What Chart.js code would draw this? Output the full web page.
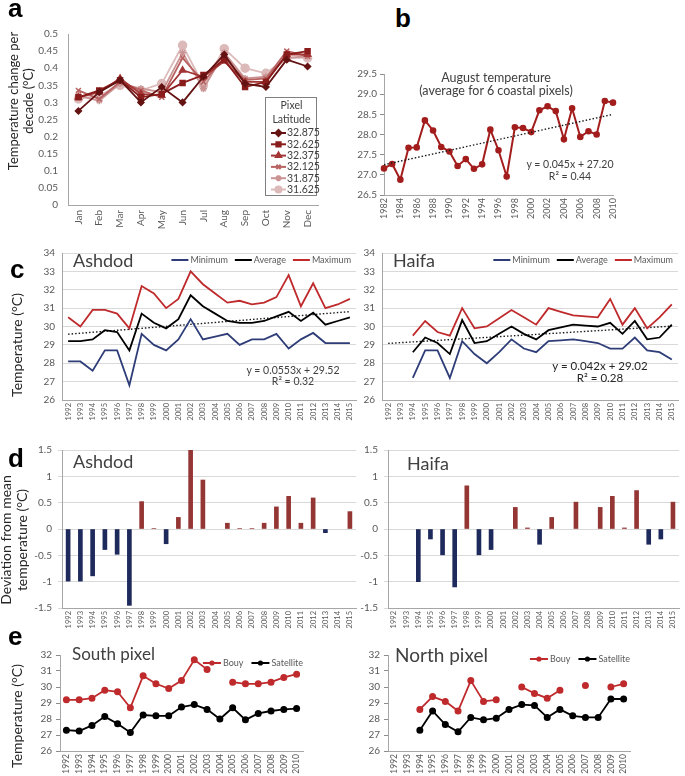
<!DOCTYPE html>
<html><head><meta charset="utf-8">
<script src="https://cdn.jsdelivr.net/npm/chart.js@4.4.1/dist/chart.umd.min.js"></script>
<style>
html,body{margin:0;padding:0;background:#fff;}
#wrap{position:relative;width:685px;height:776px;overflow:hidden;background:#fff;}
canvas{position:absolute;}
.t{position:absolute;white-space:nowrap;font-family:Lato,'Open Sans',sans-serif;color:#404040;line-height:1;}
.L{position:absolute;font-family:'Liberation Sans',Arial,sans-serif;font-weight:bold;color:#000;line-height:1;font-size:26px;}
.r{position:absolute;white-space:nowrap;font-family:Lato,'Open Sans',sans-serif;color:#262626;text-align:center;transform:translate(-50%,-50%) rotate(-90deg);}
</style></head><body><div id="wrap"></div>
<script>
// ---------- DATA ----------
const months = ['Jan','Feb','Mar','Apr','May','Jun','Jul','Aug','Sep','Oct','Nov','Dec'];
const pixelLatitudes = ['32.875','32.625','32.375','32.125','31.875','31.625'];
const change32875 = [0.275,0.33,0.365,0.30,0.345,0.30,0.375,0.44,0.355,0.345,0.425,0.405];
const change32625 = [0.315,0.335,0.365,0.315,0.325,0.357,0.38,0.425,0.345,0.36,0.44,0.45];
const change32375 = [0.315,0.33,0.37,0.325,0.32,0.394,0.375,0.42,0.36,0.36,0.44,0.44];
const change32125 = [0.335,0.31,0.36,0.335,0.315,0.43,0.36,0.43,0.365,0.37,0.45,0.435];
const change31875 = [0.32,0.305,0.355,0.34,0.33,0.445,0.34,0.445,0.37,0.375,0.43,0.435];
const change31625 = [0.31,0.32,0.35,0.335,0.355,0.467,0.35,0.457,0.40,0.385,0.43,0.43];

const augYears = ['1982','1983','1984','1985','1986','1987','1988','1989','1990','1991','1992','1993','1994','1995','1996','1997','1998','1999','2000','2001','2002','2003','2004','2005','2006','2007','2008','2009','2010'];
const augTemp = [27.16,27.27,26.88,27.67,27.68,28.35,28.1,27.69,27.58,27.22,27.39,27.15,27.26,28.12,27.61,26.96,28.18,28.16,28.06,28.6,28.7,28.58,27.88,28.65,27.94,28.08,28.0,28.83,28.79];
const augTrendEnds = [27.25, 28.5];

const stationYears = ['1992','1993','1994','1995','1996','1997','1998','1999','2000','2001','2002','2003','2004','2005','2006','2007','2008','2009','2010','2011','2012','2013','2014','2015'];
const ashdodMin = [28.1,28.1,27.6,28.7,28.7,26.8,29.6,29.0,28.7,29.3,30.4,29.3,29.45,29.6,29.0,29.3,29.3,29.6,28.8,29.3,29.65,29.1,29.1,29.1];
const ashdodAvg = [29.2,29.2,29.3,29.8,29.7,28.7,30.7,30.2,29.9,30.4,31.7,31.1,30.7,30.3,30.2,30.2,30.3,30.55,30.8,30.3,30.75,30.1,30.3,30.5];
const ashdodMax = [30.5,30.0,30.9,30.9,30.7,29.9,32.2,31.8,31.0,31.5,33.0,32.3,31.8,31.3,31.4,31.2,31.3,31.6,32.8,31.1,32.35,31.0,31.2,31.5];
const ashdodTrendEnds = [29.58, 30.81];
const haifaMin = [null,null,27.2,28.7,28.7,27.2,29.2,28.5,28.0,28.6,29.3,28.8,28.6,29.2,29.25,29.3,29.2,29.1,28.8,28.8,29.4,28.7,28.6,28.2];
const haifaAvg = [null,null,28.6,29.4,29.1,28.5,30.35,29.1,29.2,29.6,30.0,29.6,29.3,29.8,29.95,30.1,30.05,30.0,30.2,29.6,30.3,29.3,29.4,30.1];
const haifaMax = [null,null,29.5,30.3,29.7,29.5,31.0,29.9,30.0,30.45,30.9,30.5,30.1,31.0,30.8,30.6,30.55,30.5,31.5,30.1,31.0,29.9,30.5,31.2];
const haifaTrendEnds = [29.08, 30.02];

const ashdodDev = [-0.99,-0.99,-0.89,-0.39,-0.48,-1.45,0.52,0.01,-0.28,0.22,1.5,0.93,null,0.11,0.01,0.01,0.11,0.42,0.62,0.11,0.59,-0.07,null,0.33];
const haifaDev = [null,null,-1.0,-0.19,-0.49,-1.1,0.82,-0.49,-0.39,null,0.41,0.02,-0.29,0.22,null,0.51,null,0.41,0.62,0.02,0.73,-0.29,-0.19,0.51];

const pixelYears = ['1992','1993','1994','1995','1996','1997','1998','1999','2000','2001','2002','2003','2004','2005','2006','2007','2008','2009','2010'];
const southBuoy = [29.2,29.2,29.3,29.8,29.7,28.7,30.7,30.2,29.9,30.4,31.7,31.1,null,30.3,30.2,30.2,30.3,30.6,30.8];
const southSat = [27.3,27.25,27.6,28.15,27.7,27.15,28.25,28.2,28.2,28.75,28.9,28.6,28.0,28.7,27.95,28.35,28.5,28.6,28.65];
const northBuoy = [null,null,28.6,29.4,29.1,28.5,30.4,29.1,29.2,null,30.0,29.6,29.3,29.8,null,30.1,null,30.0,30.2];
const northSat = [null,null,27.3,28.5,27.65,27.2,28.1,27.95,28.05,28.6,28.9,28.85,28.1,28.6,28.2,28.1,28.1,29.25,29.25];

// ---------- STYLE ----------
const RED = '#BF2A2C', NAVY = '#2E3D78', BAR_RED = '#943634', BAR_NAVY = '#1F2A5C';
const latColors = ['#641212','#8A1C1C','#A33535','#B86262','#CB9494','#DDBABA'];
const latStyles = ['rectRot','rect','triangle','crossRot','star','circle'];
const latRadius = [3,3.5,3.5,3.5,3.5,4];

Chart.defaults.font.family = "Lato, 'Open Sans', sans-serif";
Chart.defaults.color = '#595959';

const wrap = document.getElementById('wrap');
function addCanvas(left, top, w, h){
  const c = document.createElement('canvas');
  c.width = w; c.height = h;
  c.style.left = left+'px'; c.style.top = top+'px';
  c.style.width = w+'px'; c.style.height = h+'px';
  wrap.appendChild(c); return c;
}
function addText(html, x, base, size, o={}){
  const d = document.createElement('div'); d.className='t'; d.innerHTML = html;
  d.style.fontSize = size+'px'; d.style.top = (base - 0.887*size)+'px'; d.style.left = x+'px';
  if (o.center) d.style.transform = 'translateX(-50%)';
  if (o.color) d.style.color = o.color;
  if (o.weight) d.style.fontWeight = o.weight;
  wrap.appendChild(d);
}
function addRot(html, cx, cy, size, lh){
  const d = document.createElement('div'); d.className='r'; d.innerHTML = html;
  d.style.fontSize = size+'px'; d.style.lineHeight = (lh||size)+'px';
  d.style.left = cx+'px'; d.style.top = cy+'px';
  wrap.appendChild(d);
}
function addLetter(ch, x, base){
  const d = document.createElement('div'); d.className='L'; d.textContent = ch;
  d.style.left = x+'px'; d.style.top = (base-22)+'px'; wrap.appendChild(d);
}

function yLin(W, min, max, step, o={}){
  return { type:'linear', min, max,
    ticks:{ stepSize:step, font:{size:o.fs||10}, color:'#595959', padding:(o.pad!==undefined?o.pad:6),
      callback: o.cb || (v => String(+v.toFixed(2))) },
    grid:{ display:true, drawOnChartArea:!!o.grid, color:o.grid ? '#D9D9D9' : '#8C8C8C',
      drawTicks:!!o.tick, tickLength:o.tick||0 },
    border:{ display:true, color:o.bc||'#A6A6A6', width:1 },
    afterFit(s){ s.width = W; } };
}
function xCat(H, labels, o={}){
  const ticks = { minRotation:90, maxRotation:90, autoSkip:false, font:{size:o.fs||8}, color:'#595959',
    padding:(o.pad!==undefined?o.pad:3) };
  if (o.cb) ticks.callback = o.cb;
  return { type:'category', labels, offset:(o.offset!==undefined?o.offset:true), ticks,
    grid:{ display:false, drawTicks:false, tickLength:0 }, border:{ display:true, color:o.bc||'#A6A6A6', width:1 },
    afterFit(s){ s.height = H; } };
}
function trendData(n, ends){ const a = new Array(n).fill(null); a[0] = ends[0]; a[n-1] = ends[1]; return a; }

const boxLegend = {
  id:'boxLegend',
  afterDraw(chart, args, o){
    const {ctx, chartArea:ca} = chart;
    const x0 = Math.round(ca.right + o.dx), y0 = Math.round(ca.bottom + o.dy);
    ctx.save();
    ctx.fillStyle = '#fff'; ctx.fillRect(x0, y0, o.w, o.h);
    ctx.strokeStyle = '#7F7F7F'; ctx.lineWidth = 1; ctx.strokeRect(x0+0.5, y0+0.5, o.w, o.h);
    ctx.font = o.fs+'px Lato, sans-serif'; ctx.textBaseline = 'middle'; ctx.textAlign = 'center';
    ctx.fillStyle = '#404040';
    o.title.forEach((t,i) => ctx.fillText(t, x0 + o.w/2 + 1, y0 + o.titleY[i]));
    ctx.textAlign = 'left';
    chart.data.datasets.forEach((ds,i) => {
      const y = y0 + o.itemY0 + i*o.itemDy;
      ctx.strokeStyle = ds.borderColor; ctx.lineWidth = 2;
      ctx.beginPath(); ctx.moveTo(x0+6, y); ctx.lineTo(x0+21, y); ctx.stroke();
      ctx.fillStyle = ds.pointBackgroundColor; ctx.strokeStyle = ds.borderColor;
      if (Chart.helpers && Chart.helpers.drawPoint) {
        Chart.helpers.drawPoint(ctx, {pointStyle:ds.pointStyle, radius:Math.min(3, ds.pointRadius), borderWidth:1.2, rotation:0}, x0+13.5, y);
      }
      ctx.fillStyle = '#404040'; ctx.fillText(ds.label, x0+22, y);
    });
    ctx.restore();
  }
};
const lineLegend = {
  id:'lineLegend',
  afterDraw(chart, args, o){
    const {ctx, chartArea:ca} = chart;
    const items = chart.data.datasets.filter(d => d.label && !d.noLegend);
    ctx.save(); ctx.font = o.fs+'px Lato, sans-serif'; ctx.textBaseline = 'middle'; ctx.textAlign = 'left';
    const widths = items.map(it => ctx.measureText(it.label).width);
    const total = items.reduce((s,it,i) => s + o.len + 2 + widths[i], 0) + o.gap*(items.length-1);
    let x = ca.right + o.dx - total; const y = ca.top + o.dy;
    items.forEach((it,i) => {
      ctx.strokeStyle = it.borderColor; ctx.lineWidth = 2;
      ctx.beginPath(); ctx.moveTo(x, y); ctx.lineTo(x+o.len, y); ctx.stroke();
      if (it.pointRadius > 0){ ctx.fillStyle = it.borderColor; ctx.beginPath(); ctx.arc(x+o.len/2, y, 2.6, 0, Math.PI*2); ctx.fill(); }
      x += o.len + 2; ctx.fillStyle = '#595959'; ctx.fillText(it.label, x, y); x += widths[i] + o.gap;
    });
    ctx.restore();
  }
};

function mk(canvas, type, data, scales, padding, plugins, pluginOpts){
  return new Chart(canvas, { type, data, plugins:plugins||[],
    options:{ responsive:false, animation:false, devicePixelRatio:1, layout:{padding},
      scales, elements:{ line:{ tension:0 } },
      plugins:Object.assign({ legend:{display:false}, tooltip:{enabled:false} }, pluginOpts||{}) } });
}
const lineDs = (label, data, color, o={}) => Object.assign({ label, data, borderColor:color, backgroundColor:color,
  pointBackgroundColor:color, pointBorderColor:color, borderWidth:2, pointRadius:0, spanGaps:false }, o);
const trendDs = (data) => ({ data, borderColor:'#1a1a1a', borderWidth:1.4, borderDash:[1.5,2], pointRadius:0, spanGaps:true, noLegend:true });

// ---------- PANEL A ----------
const changeSeries = [change32875, change32625, change32375, change32125, change31875, change31625];
mk(addCanvas(0,0,340,248), 'line',
  { labels:months, datasets: changeSeries.map((d,i) => lineDs(pixelLatitudes[i], d, latColors[i],
      { pointStyle:latStyles[i], pointRadius:latRadius[i], pointBorderWidth:1.5, borderWidth:1.8 })) },
  { x: xCat(43, months, {fs:10, pad:5}), y: yLin(68, 0, 0.5, 0.05, {fs:10, pad:10}) },
  {top:34, right:22, left:0, bottom:0}, [boxLegend],
  { boxLegend:{ dx:-53, dy:-108, w:51, h:98, fs:10.5, title:['Pixel','Latitude'], titleY:[9,23], itemY0:36, itemDy:11.3 } });

// ---------- PANEL B ----------
mk(addCanvas(340,60,300,165), 'line',
  { labels:augYears, datasets:[
    trendDs(trendData(augYears.length, augTrendEnds)),
    lineDs('August', augTemp, '#A31D1D', { pointRadius:2.3, borderWidth:2 }) ] },
  { x: xCat(30, augYears, {fs:9, pad:3, offset:false, cb:function(v,i){ return i%2===0 ? this.getLabelForValue(v) : ''; }}),
    y: yLin(44, 26.5, 29.5, 0.5, {fs:10, pad:3, tick:4, cb:v => v.toFixed(1)}) },
  {top:14, right:27, left:0, bottom:0});

// ---------- PANEL C ----------
function tempChart(canvas, mn, av, mx, ends, yW, pad){
  return mk(canvas, 'line',
    { labels:stationYears, datasets:[
      lineDs('Minimum', mn, NAVY, {borderWidth:1.8}),
      lineDs('Average', av, '#000000', {borderWidth:1.8}),
      lineDs('Maximum', mx, RED, {borderWidth:1.8}),
      trendDs(trendData(stationYears.length, ends)) ] },
    { x: xCat(30, stationYears, {fs:7.5, pad:3}), y: yLin(yW, 26, 34, 1, {fs:10, pad:7, grid:true}) },
    pad, [lineLegend], { lineLegend:{ fs:9, len:17, gap:7, dx:-5, dy:7 } });
}
tempChart(addCanvas(0,240,362,190), ashdodMin, ashdodAvg, ashdodMax, ashdodTrendEnds, 62, {top:10, right:4, left:0, bottom:0});
tempChart(addCanvas(352,240,333,190), haifaMin, haifaAvg, haifaMax, haifaTrendEnds, 30, {top:10, right:7, left:0, bottom:0});

// ---------- PANEL D ----------
function devChart(canvas, vals, yW, pad){
  return mk(canvas, 'bar',
    { labels:stationYears, datasets:[{ data:vals, barThickness:4,
      backgroundColor: c => (c.raw >= 0 ? BAR_RED : BAR_NAVY) }] },
    { x: xCat(28, stationYears, {fs:7.5, pad:3}),
      y: yLin(yW, -1.5, 1.5, 0.5, {fs:10, pad:6, grid:true, tick:4}) },
    pad);
}
devChart(addCanvas(0,438,362,198), ashdodDev, 62, {top:10, right:5, left:0, bottom:0});
devChart(addCanvas(352,438,333,198), haifaDev, 36, {top:12, right:2, left:0, bottom:0});

// ---------- PANEL E ----------
function pixelChart(canvas, buoy, sat, yW, pad, dy){
  return mk(canvas, 'line',
    { labels:pixelYears, datasets:[
      lineDs('Bouy', buoy, RED, {pointRadius:2.6, borderWidth:1.8}),
      lineDs('Satellite', sat, '#000000', {pointRadius:2.6, borderWidth:1.8}) ] },
    { x: xCat(25, pixelYears, {fs:8.5, pad:3}), y: yLin(yW, 26, 32, 1, {fs:10, pad:4, tick:4}) },
    pad, [lineLegend], { lineLegend:{ fs:9, len:18, gap:8, dx:0, dy:dy } });
}
pixelChart(addCanvas(0,645,330,131), southBuoy, southSat, 60, {top:10, right:27, left:0, bottom:0}, 8);
pixelChart(addCanvas(352,645,333,131), northBuoy, northSat, 36, {top:9, right:55, left:0, bottom:0}, 4);

// ---------- TEXT ----------
addLetter('a', 8, 17); addLetter('b', 395, 27); addLetter('c', 10, 278); addLetter('d', 8, 467); addLetter('e', 8, 645);
addRot('Temperature change per<br>decade (°C)', 21, 101, 13, 15);
addRot('Temperature (°C)', 17, 345, 14);
addRot('Deviation from mean<br>temperature (°C)', 14, 540, 14, 16);
addRot('Temperature (°C)', 17, 716, 14);

addText('August temperature', 496, 83, 12.5, {center:true});
addText('(average for 6 coastal pixels)', 496, 96, 12.5, {center:true});
addText('y = 0.045x + 27.20', 570, 168.5, 10.5, {center:true});
addText('R² = 0.44', 570, 180, 10.5, {center:true});

addText('Ashdod', 73, 267, 18);
addText('Haifa', 393, 267, 18);
addText('y = 0.0553x + 29.52', 293, 374, 10.5, {center:true});
addText('R² = 0.32', 293, 385, 10.5, {center:true});
addText('y = 0.042x + 29.02', 600, 370, 11.5, {center:true, color:'#262626'});
addText('R² = 0.28', 600, 382, 11.5, {center:true, color:'#262626'});

addText('Ashdod', 73, 468, 18);
addText('Haifa', 407, 470, 18);
addText('South pixel', 72, 660, 17);
addText('North pixel', 395, 662, 19);
</script></body></html>
